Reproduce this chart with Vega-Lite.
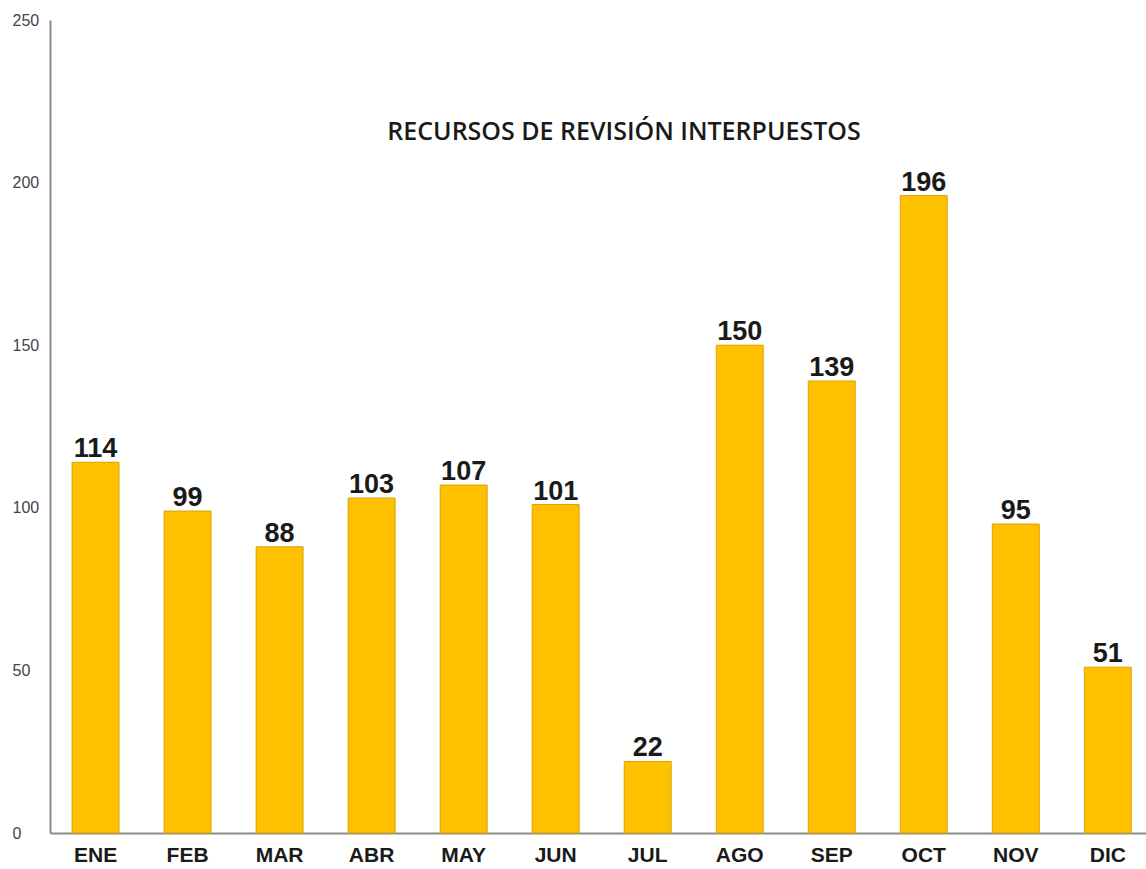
{
  "$schema": "https://vega.github.io/schema/vega-lite/v6.json",
  "autosize": "none",
  "width": 1096,
  "height": 813,
  "padding": {"left": 50, "top": 20, "right": 0, "bottom": 36},
  "background": "white",
  "title": {
    "text": "RECURSOS DE REVISIÓN INTERPUESTOS",
    "font": "Open Sans",
    "fontWeight": 600,
    "fontSize": 25,
    "color": "#1a1a1a",
    "anchor": "middle",
    "frame": "group",
    "baseline": "alphabetic",
    "offset": -153,
    "dx": 26
  },
  "data": {
    "values": [
      {"mes": "ENE", "valor": 114},
      {"mes": "FEB", "valor": 99},
      {"mes": "MAR", "valor": 88},
      {"mes": "ABR", "valor": 103},
      {"mes": "MAY", "valor": 107},
      {"mes": "JUN", "valor": 101},
      {"mes": "JUL", "valor": 22},
      {"mes": "AGO", "valor": 150},
      {"mes": "SEP", "valor": 139},
      {"mes": "OCT", "valor": 196},
      {"mes": "NOV", "valor": 95},
      {"mes": "DIC", "valor": 51}
    ]
  },
  "encoding": {
    "x": {
      "field": "mes",
      "type": "nominal",
      "sort": null,
      "scale": {"paddingInner": 0.49, "paddingOuter": 0.2, "align": 0.6},
      "axis": {
        "title": null,
        "labelAngle": 0,
        "labelFont": "Liberation Sans",
        "labelFontWeight": "bold",
        "labelFontSize": 21,
        "labelColor": "#1a1a1a",
        "labelPadding": 11,
        "ticks": false,
        "tickSize": 0,
        "domainColor": "#8c8c8c",
        "domainWidth": 2,
        "grid": false
      }
    },
    "y": {
      "field": "valor",
      "type": "quantitative",
      "scale": {"domain": [0, 250], "nice": false},
      "axis": {
        "title": null,
        "values": [0, 50, 100, 150, 200, 250],
        "labelAlign": "left",
        "labelPadding": 38,
        "labelFont": "Liberation Sans",
        "labelFontSize": 16,
        "labelColor": "#444444",
        "ticks": false,
        "tickSize": 0,
        "domainColor": "#8c8c8c",
        "domainWidth": 2,
        "grid": false
      }
    }
  },
  "layer": [
    {
      "mark": {"type": "bar", "color": "#FFC000", "stroke": "#D9A300", "strokeWidth": 1}
    },
    {
      "mark": {
        "type": "text",
        "font": "Liberation Sans",
        "fontWeight": "bold",
        "fontSize": 27,
        "color": "#1a1a1a",
        "baseline": "alphabetic",
        "dy": -5
      },
      "encoding": {"text": {"field": "valor", "type": "quantitative"}}
    }
  ],
  "config": {"view": {"stroke": null}}
}
